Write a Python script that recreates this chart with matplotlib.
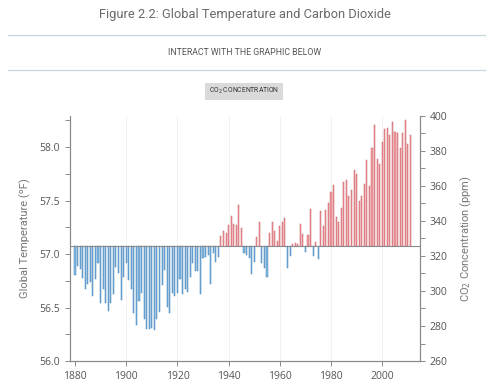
import numpy as np
import matplotlib
matplotlib.use("Agg")
import matplotlib.pyplot as plt
from matplotlib.patches import Rectangle
from matplotlib.lines import Line2D

# Annual global temperature (F), 1880-2011
years = list(range(1880, 2012))
temps = [
    56.80, 56.89, 56.86, 56.78, 56.67, 56.72, 56.74, 56.61, 56.77, 56.92,
    56.54, 56.67, 56.54, 56.47, 56.54, 56.63, 56.88, 56.82, 56.57, 56.79,
    56.92, 56.76, 56.67, 56.45, 56.34, 56.56, 56.64, 56.39, 56.30, 56.30,
    56.31, 56.29, 56.39, 56.46, 56.71, 56.85, 56.51, 56.45, 56.64, 56.61,
    56.64, 56.77, 56.63, 56.67, 56.65, 56.79, 56.92, 56.84, 56.84, 56.63,
    56.96, 56.97, 56.99, 56.72, 57.01, 56.93, 56.97, 57.17, 57.22, 57.20,
    57.27, 57.36, 57.28, 57.27, 57.46, 57.24, 57.01, 56.99, 56.96, 56.81,
    56.93, 57.16, 57.30, 56.92, 56.87, 56.79, 57.20, 57.30, 57.22, 57.12,
    57.26, 57.30, 57.34, 56.87, 56.98, 57.09, 57.10, 57.09, 57.28, 57.19,
    57.02, 57.18, 57.42, 56.98, 57.11, 56.95, 57.40, 57.26, 57.41, 57.48,
    57.58, 57.65, 57.35, 57.30, 57.43, 57.67, 57.69, 57.54, 57.60, 57.79,
    57.75, 57.50, 57.54, 57.66, 57.88, 57.64, 57.99, 58.21, 57.89, 57.84,
    58.05, 58.17, 58.18, 58.11, 58.24, 58.14, 58.13, 57.99, 58.13, 58.25,
    58.03, 58.11,
]
baseline = 57.08

title = "Figure 2.2: Global Temperature and Carbon Dioxide"
subtitle = "INTERACT WITH THE GRAPHIC BELOW"
button_text = "CO$_2$ CONCENTRATION"

fig = plt.figure(figsize=(5, 3.92), dpi=100)
fig.patch.set_facecolor("white")

# header
fig.text(0.49, 0.962, title, ha="center", va="center", fontsize=9.3,
         family="Roboto", color="#6a6a6a")
for y in (0.910, 0.822):
    fig.add_artist(Line2D([0.015, 0.97], [y, y], transform=fig.transFigure,
                          color="#c9d7dd", lw=0.9))
fig.text(0.49, 0.866, subtitle, ha="center", va="center", fontsize=6.3,
         family="Roboto", color="#555555")
fig.add_artist(Rectangle((0.41, 0.745), 0.156, 0.044, transform=fig.transFigure,
                         facecolor="#dadada", edgecolor="none"))
fig.text(0.488, 0.767, button_text, ha="center", va="center", fontsize=4.9,
         family="Roboto", color="#333333")

ax = fig.add_axes([0.14, 0.079, 0.70, 0.626])
ax2 = ax.twinx()

years_a = np.array(years)
temps_a = np.array(temps)
colors = np.where(temps_a >= baseline, "#f0a1a6", "#86bbe3")
edges = np.where(temps_a >= baseline, "#cf5f67", "#3f80b8")
ax.bar(years_a, temps_a - baseline, bottom=baseline, width=0.42,
       color=colors, edgecolor=edges, linewidth=0.35)
ax.axhline(baseline, color="#8a8a8a", lw=0.8)

ax.set_xlim(1878.05, 2014.75)
ax.set_ylim(56.0, 58.295)
ax2.set_ylim(260, 400)

ax.set_xticks(range(1880, 2001, 20))
ax.set_yticks([56.0, 56.5, 57.0, 57.5, 58.0])
ax.set_yticks(np.arange(56.25, 58.3, 0.5), minor=True)
ax.set_yticklabels(["56.0", "56.5", "57.0", "57.5", "58.0"])
ax2.set_yticks(range(260, 401, 20))
ax2.set_yticks(range(270, 400, 20), minor=True)

for x in range(1900, 2001, 20):
    ax.axvline(x, color="#f0f0f0", lw=0.6, zorder=0)

for a in (ax, ax2):
    a.spines["top"].set_visible(False)
    for s in ("left", "right", "bottom"):
        a.spines[s].set_color("#8a8a8a")
        a.spines[s].set_linewidth(0.8)
    a.tick_params(which="both", color="#8a8a8a", labelcolor="#555555",
                  labelsize=7.5, width=0.7, length=3.5)
    for lab in a.get_xticklabels() + a.get_yticklabels():
        lab.set_family("Open Sans")

ax.set_ylabel("Global Temperature (ºF)", fontsize=8, color="#777777",
              family="Roboto", labelpad=6)
ax2.set_ylabel("CO$_2$ Concentration (ppm)", fontsize=8, color="#777777",
               family="Roboto", rotation=90, labelpad=8)

fig.savefig("out.png", dpi=100)
